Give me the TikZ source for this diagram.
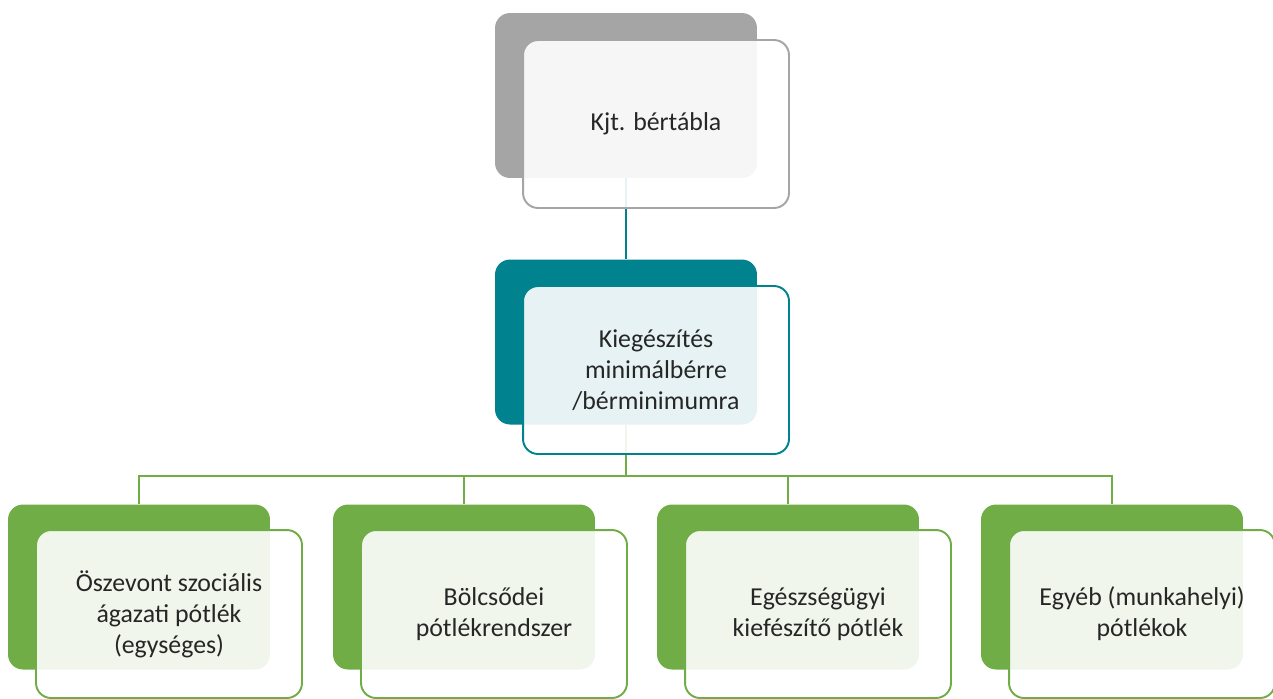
\documentclass[tikz,border=0pt]{standalone}
\usepackage{fontspec}
\setmainfont{Carlito}
\definecolor{grayback}{HTML}{A5A5A5}
\definecolor{tealback}{HTML}{00838F}
\definecolor{greenback}{HTML}{70AD47}
\tikzset{
	backbox/.style={rounded corners=0.3cm, minimum width=5.24cm, minimum height=3.3cm, inner sep=0pt},
	frontbox/.style={rounded corners=0.3cm, minimum width=5.32cm, minimum height=3.36cm, inner sep=0pt,
		line width=1.1pt, fill=white, fill opacity=0.9, text opacity=1, align=center, text=black!85,
		font=\fontsize{14.7}{17.6}\selectfont},
	link/.style={line width=1.1pt}
}
\begin{document}
\begin{tikzpicture}[x=0.02cm, y=-0.02cm]
		\useasboundingbox (0,0) rectangle (1273,698);
		% back boxes
		\node[backbox, fill=grayback] (topback) at (626,95.5) {};
		\node[backbox, fill=tealback] (midback) at (626,342) {};
		\foreach \i/\x in {1/139, 2/464, 3/788, 4/1112}{
			\node[backbox, fill=greenback] (back\i) at (\x,587) {};
		}
		
		% connectors
		\draw[link, tealback] (topback.south) -- (midback.north);
		\coordinate (bus) at (626,476);
		\draw[link, greenback] (midback.south) -- (bus);
		\foreach \i in {1,...,4}{
			\draw[link, greenback] (bus) -| (back\i.north);
		}
		
		% front boxes
		\node[frontbox, draw=grayback] (top) at (656,124) {Kjt. bértábla};
		\node[frontbox, draw=tealback] (mid) at (656,370) {Kiegészítés\\minimálbérre\\/bérminimumra};
		\foreach \i/\x/\t in {1/169/{Öszevont szociális\\ágazati pótlék\\(egységes)}, 2/494/{Bölcsődei\\pótlékrendszer}, 3/818/{Egészségügyi\\kiefészítő pótlék}, 4/1142/{Egyéb (munkahelyi)\\pótlékok}}{
			\node[frontbox, draw=greenback] (item\i) at (\x,614) {\t};
		}
		\end{tikzpicture}
\end{document}
